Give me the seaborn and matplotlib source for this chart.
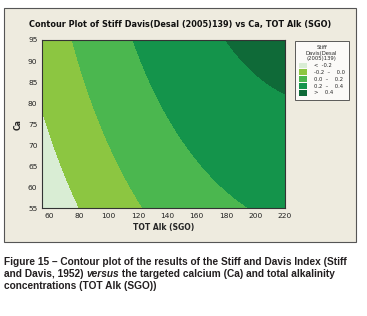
import numpy as np
import matplotlib.pyplot as plt
import matplotlib.patches as mpatches
import seaborn as sns

# quadratic response surface of the Stiff-Davis index, in scaled units
# xs = (TOT Alk - 100) / 100, ys = (Ca - 75) / 20
surface_terms = ["const", "xs", "ys", "xs^2", "ys^2", "xs*ys"]
surface_coefs = [0.0269, 0.4698, 0.1135, -0.1602, -0.0146, 0.0019]

alk_range = [55, 220]
ca_range = [55, 95]
levels = [-9, -0.2, 0.0, 0.2, 0.4, 9]
level_labels = ["<  -0.2", "-0.2  \u2013    0.0", "0.0  \u2013    0.2", "0.2  \u2013    0.4", ">    0.4"]
level_colors = ["#d9edd4", "#8cc641", "#4bb74f", "#14944b", "#0f6a38"]
x_ticks = [60, 80, 100, 120, 140, 160, 180, 200, 220]
y_ticks = [55, 60, 65, 70, 75, 80, 85, 90, 95]

sns.set_style("white")
plt.rcParams['font.family'] = ['DejaVu Sans']

fig = plt.figure(figsize=(3.67, 3.16), dpi=100)
W, H = 367, 316

# beige panel behind the chart
panel = mpatches.Rectangle((4 / W, 1 - 242 / H), 352 / W, 234 / H, transform=fig.transFigure,
                           facecolor="#eeebdf", edgecolor="#555555", linewidth=0.8, zorder=-1)
fig.patches.append(panel)

ax = fig.add_axes([42.3 / W, 1 - 208.3 / H, 242.7 / W, 168.3 / H])
gx, gy = np.meshgrid(np.linspace(*alk_range, 300), np.linspace(*ca_range, 300))
xs = (gx - 100) / 100
ys = (gy - 75) / 20
c = surface_coefs
gz = c[0] + c[1] * xs + c[2] * ys + c[3] * xs ** 2 + c[4] * ys ** 2 + c[5] * xs * ys
ax.contourf(gx, gy, gz, levels=levels, colors=level_colors)
ax.set_xlim(*alk_range)
ax.set_ylim(*ca_range)
ax.set_xticks(x_ticks)
ax.set_yticks(y_ticks)
ax.tick_params(labelsize=5.4, length=2, width=0.6, pad=1.5, colors="#333333", labelcolor="#222222")
for s in ax.spines.values():
    s.set_linewidth(0.8)
    s.set_color("#333333")
ax.set_xlabel("TOT Alk (SGO)", fontsize=5.5, fontweight="bold", labelpad=3)
ax.set_ylabel("Ca", fontsize=5.5, fontweight="bold", labelpad=4)

fig.text(180 / W, 1 - 24 / H, "Contour Plot of Stiff Davis(Desal (2005)139) vs Ca, TOT Alk (SGO)",
         ha="center", va="center", fontsize=5.9, fontweight="bold", color="#111111")

# legend box
handles = [mpatches.Patch(facecolor=col, edgecolor="none") for col in level_colors]
leg = fig.legend(handles, level_labels, title="Stiff\nDavis(Desal\n(2005)139)",
                 loc="upper left", bbox_to_anchor=(292 / W, 1 - 38 / H),
                 fontsize=3.8, title_fontsize=3.8, frameon=True, fancybox=False,
                 handlelength=1.6, handleheight=1.3, handletextpad=1.2, labelspacing=0.2,
                 borderpad=0.8, alignment="center")
leg.get_frame().set_edgecolor("#333333")
leg.get_frame().set_linewidth(0.7)
leg.get_title().set_multialignment("center")
for t in leg.get_texts():
    t.set_ha("right")

# caption below the panel
cap_kw = dict(fontsize=7.25, fontweight="bold", color="#231f20", family="Liberation Sans", va="baseline")
x0 = 4 / W
fig.text(x0, 1 - 265 / H, "Figure 15 \u2013 Contour plot of the results of the Stiff and Davis Index (Stiff", **cap_kw)
renderer = fig.canvas.get_renderer()
t1 = fig.text(x0, 1 - 277 / H, "and Davis, 1952) ", **cap_kw)
bb = t1.get_window_extent(renderer)
t2 = fig.text(bb.x1 / fig.bbox.width, 1 - 277 / H, "versus", style="italic", **cap_kw)
bb2 = t2.get_window_extent(renderer)
fig.text(bb2.x1 / fig.bbox.width, 1 - 277 / H, " the targeted calcium (Ca) and total alkalinity", **cap_kw)
fig.text(x0, 1 - 289 / H, "concentrations (TOT Alk (SGO))", **cap_kw)

fig.savefig("out.png", dpi=100, facecolor="white")
